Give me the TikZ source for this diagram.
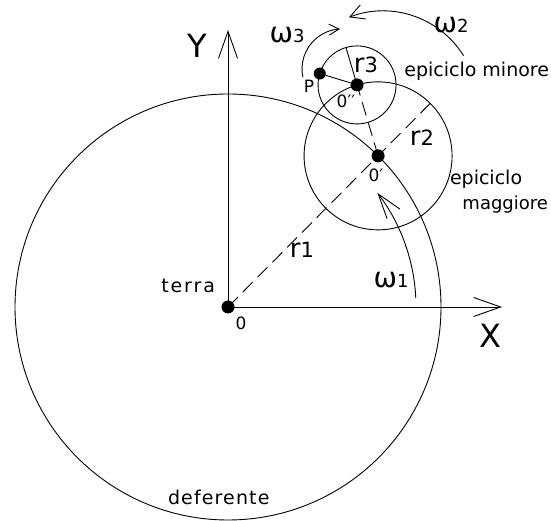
\documentclass[tikz,border=0pt]{standalone}
\usepackage{fontspec}
\setmainfont{DejaVu Sans}
\usetikzlibrary{arrows.meta,calc}
\newcommand\fsz[1]{\fontsize{#1}{#1}\selectfont}
\tikzset{
  dot/.style={circle,fill=black,inner sep=0pt,minimum size=13pt},
  ln/.style={line width=0.9pt},
  dashline/.style={line width=0.9pt,dash pattern=on 14pt off 7pt},
  axisarr/.style={line width=0.9pt,-{Straight Barb[length=27pt,width=19pt]}},
  bigarr/.style={line width=0.9pt,-{Straight Barb[length=25pt,width=16pt]}},
  midarr/.style={line width=0.9pt,-{Straight Barb[length=14pt,width=15pt]}},
  smallarr/.style={line width=0.9pt,-{Straight Barb[length=10pt,width=11pt]}},
  lbl/.style={inner sep=0pt,outer sep=0pt},
  word/.style={inner sep=0pt,outer sep=0pt,font=\fsz{19}}
}
\begin{document}
\begin{tikzpicture}[x=1pt,y=1pt]
\useasboundingbox (0,0) rectangle (551,521);
% centres
\coordinate (Oc) at (228,214);
\coordinate (O1c) at ($(Oc)+(45.2:213)$);
\coordinate (O2c) at ($(O1c)+(106.5:74)$);
\coordinate (Pc) at ($(O2c)+(163:39)$);
\coordinate (r1e) at ($(O1c)+(45.2:74)$);
\coordinate (r3e) at ($(O2c)+(106.5:39)$);
\coordinate (ytip) at (228,491);
\coordinate (xtip) at (502,214);
\coordinate (c2) at (383,415);
\coordinate (c3) at (342,452);
% circles
\draw[ln] (Oc) circle[radius=213];
\draw[ln] (O1c) circle[radius=74];
\draw[ln] (O2c) circle[radius=39];
% axes
\draw[axisarr] (Oc) -- (ytip);
\draw[axisarr] (Oc) -- (xtip);
% radii
\draw[dashline] (Oc) -- (r1e);
\draw[dashline] (O1c) -- (O2c);
\draw[ln] (O2c) -- (r3e);
\draw[ln] (O2c) -- (Pc);
% dots
\node[dot] (O) at (Oc) {};
\node[dot] (O1) at (O1c) {};
\node[dot] (O2) at (O2c) {};
\node[dot,minimum size=12pt] (P) at (Pc) {};
% rotation arrows
\draw[bigarr] ($(Oc)+(2.7:188)$) arc[start angle=2.7,end angle=37.4,radius=188];
\draw[midarr] ($(c2)+(32:95)$) arc[start angle=32,end angle=111,radius=95];
\draw[smallarr] ($(c3)+(192:40)$) arc[start angle=192,end angle=93,radius=40];
% labels
\node[lbl,font=\fsz{32}] (Ylab) at (197,475) {Y};
\node[lbl,font=\fsz{32}] (Xlab) at (490,185) {X};
\node[lbl] (w3) at (287,486) {\fsz{28}ω\fsz{18}3};
\node[lbl] (w2) at (451,496) {\fsz{28}ω\fsz{18}2};
\node[lbl] (w1) at (391,241) {\fsz{28}ω\fsz{18}1};
\node[lbl] (r3) at (366,456) {\fsz{26}r\fsz{21}3};
\node[lbl] (r2) at (422,383) {\fsz{26}r\fsz{21}2};
\node[lbl] (r1) at (302,271) {\fsz{26}r\fsz{21}1};
\node[word,anchor=base east] (em) at (549,444) {epiciclo minore};
\node[word,anchor=base west] (eM1) at (450,336) {epiciclo};
\node[word,anchor=base east,font=\fsz{18}] (eM2) at (548,311) {maggiore};
\node[word,anchor=base east] (terra) at (215,228) {\addfontfeature{LetterSpace=10}terra};
\node[word,anchor=base west] (def) at (168,16) {\addfontfeature{LetterSpace=6}deferente};
\node[lbl,font=\fsz{17}] (Pl) at (309,435) {P};
\node[lbl,font=\fsz{17}] (zero) at (241,198) {0};
\node[lbl,font=\fsz{17}] (zero1) at (376,346) {0′};
\node[lbl,font=\fsz{17}] (zero2) at (346,420) {0′′};
\end{tikzpicture}
\end{document}
